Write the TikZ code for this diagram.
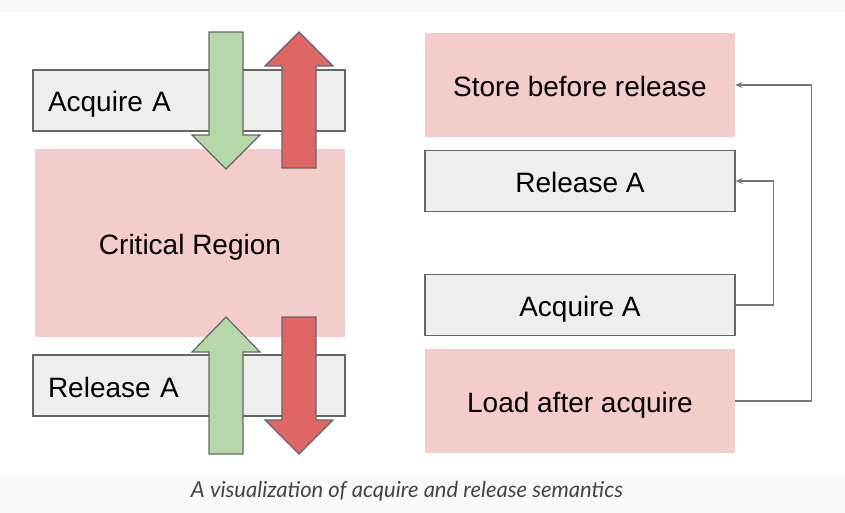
\documentclass[tikz,border=0pt]{standalone}
\usepackage{fontspec}
\setmainfont{Liberation Sans}
\newfontfamily\capfont{Lato}
\usetikzlibrary{arrows.meta}

\definecolor{boxgray}{HTML}{EEEEEE}
\definecolor{edgegray}{HTML}{666666}
\definecolor{linkgray}{HTML}{777777}
\definecolor{regionpink}{HTML}{F4CCCC}
\definecolor{okgreen}{HTML}{B6D7A8}
\definecolor{badred}{HTML}{E06666}
\definecolor{stripgray}{HTML}{F9F9F9}
\definecolor{captext}{HTML}{444444}

\tikzset{
  lbl/.style={font=\fontsize{28}{34}\selectfont, text=black, text height=24pt, text depth=1pt},
  graybox/.style={lbl, draw=edgegray, line width=1.2pt, fill=boxgray, minimum height=61pt},
  sidebox/.style={graybox, text width=282pt, inner xsep=15pt, align=left},
  rightbox/.style={graybox, minimum width=310pt},
  pinkbox/.style={lbl, fill=regionpink, minimum width=310pt},
  bigarrow/.style={draw=edgegray, line width=1.2pt, line join=miter},
  link/.style={draw=linkgray, line width=1.1pt, -{Stealth[length=7pt,width=6pt]}}
}

% x, start of shaft, base of head, tip, colour
\newcommand{\blockarrow}[5]{%
  \draw[bigarrow, fill=#5] (#1-17,#2) -- (#1+17,#2) -- (#1+17,#3) -- (#1+34,#3)
    -- (#1,#4) -- (#1-34,#3) -- (#1-17,#3) -- cycle;}

\begin{document}
\begin{tikzpicture}[x=1pt, y=-1pt]
  \useasboundingbox (0,0) rectangle (845,513);
  \fill[stripgray] (0,0) rectangle (845,12);
  \fill[stripgray] (0,474) rectangle (845,513);

  % left side
  \node[sidebox] (acqL) at (189,100.5) {Acquire A};
  \node[pinkbox, minimum height=188pt] (crit) at (190,243) {Critical Region};
  \node[sidebox] (relL) at (189,385.5) {Release A};

  \blockarrow{226}{32}{135}{169}{okgreen}
  \blockarrow{299}{168}{66}{32}{badred}
  \blockarrow{226}{454}{352}{317}{okgreen}
  \blockarrow{299}{317}{420}{454}{badred}

  % right side
  \node[pinkbox, minimum height=104pt] (store) at (580,85) {Store before release};
  \node[rightbox] (relR) at (580,181) {Release A};
  \node[rightbox] (acqR) at (580,305) {Acquire A};
  \node[pinkbox, minimum height=104pt] (load) at (580,401) {Load after acquire};

  \draw[link] (acqR.east) -- ++(38,0) |- (relR.east);
  \draw[link] (load.east) -- ++(76,0) |- (store.east);

  \node[font=\capfont\itshape\fontsize{22}{26}\selectfont, text=captext] (caption) at (407,491) {A visualization of acquire and release semantics};
\end{tikzpicture}
\end{document}
